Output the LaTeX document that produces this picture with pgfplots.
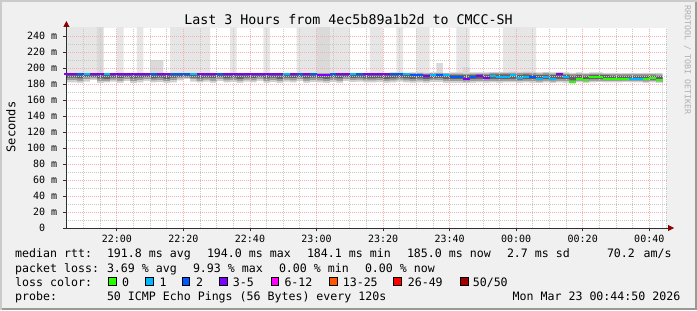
\documentclass[border=0pt]{standalone}
\usepackage{fontspec}
\setmainfont{DejaVu Sans Mono}
\usepackage{pgfplots}
\usepackage{pgfplotstable}
\pgfplotsset{compat=1.18}
\usetikzlibrary{arrows.meta}

\definecolor{bg}{HTML}{F0F0F0}
\definecolor{shadeA}{HTML}{CBCBCB}
\definecolor{shadeB}{HTML}{999999}
\definecolor{gridred}{HTML}{F4B0B0}
\definecolor{gridgray}{HTML}{C8C8C8}
\definecolor{arrowred}{HTML}{8B0000}
\definecolor{axiscol}{HTML}{303030}
\definecolor{tallA}{HTML}{E6E6E6}
\definecolor{tallB}{HTML}{DADADA}
\definecolor{smL}{HTML}{D0D0D0}
\definecolor{smM}{HTML}{9C9C9C}
\definecolor{smD}{HTML}{626262}
\definecolor{lc0}{HTML}{26FF00}
\definecolor{lc1}{HTML}{00B8FF}
\definecolor{lc2}{HTML}{0059FF}
\definecolor{lc3}{HTML}{7E00FF}
\definecolor{lc4}{HTML}{FF00FF}
\definecolor{lc5}{HTML}{FF5500}
\definecolor{lc6}{HTML}{FF0000}
\definecolor{lc7}{HTML}{A10000}
\definecolor{wm}{HTML}{B0B0B0}

% x = left edge of 2-minute interval (minutes after 21:00)
\pgfplotstableread{
x tA tB Lhi Mhi Dhi Dlo Mlo Llo med c
44 252 0 193.8 193.3 192.7 188 185 182 193 p
46 252 0 193.8 193.3 192.7 188 185 182 193 p
48 252 0 193.8 193.3 192.7 187 184 181.5 193 b
50 252 0 193.8 193.3 192.7 188.5 186 183 193 c
52 252 0 193.8 193.3 192.7 189 187 185 193 p
54 0 252 193.8 193.3 192.7 187 184 181 193 p
56 0 0 193.8 193.3 192.7 186.5 184 182 193 c
58 0 0 193.8 193.3 192.7 188 185.5 183 193 p
60 252 0 193.8 193.3 192.7 187.5 184 181.5 193 p
62 0 0 193.8 193.3 192.7 189 186 183.5 193 p
64 0 0 193.8 193.3 192.7 187 183.5 181 193 p
66 252 0 193.8 193.3 192.7 188 185 182 193 p
68 0 0 193.8 193.3 192.7 188.5 186 184 193 p
70 0 210 193.8 193.3 192.7 187 184.5 182 193 b
72 0 210 193.8 193.3 192.7 188 185 182.5 193 p
74 0 0 193.8 193.3 192.7 186.5 183.5 181.5 193 p
76 252 0 193.8 193.3 192.7 188 185 182 193 b
78 252 0 193.8 193.3 192.7 189 187 184.5 193 b
80 252 0 193.8 193.3 192.7 189.5 187.5 186 193 b
82 252 0 193.8 193.3 192.7 188 186 183 193 c
84 252 0 193.8 193.3 192.7 187 184 182 193 p
86 252 0 193.8 193.3 192.7 188 185.5 183 193 p
88 0 0 193.8 193.3 192.7 187.5 184 181.5 193 p
90 0 0 193.8 193.3 192.7 188.5 186 183.5 193 b
92 0 0 193.8 193.3 192.7 187 184.5 182 193 p
94 252 0 193.8 193.3 192.7 188 185 182.5 193 p
96 0 0 193.8 193.3 192.7 186.5 184 181.5 193 p
98 0 0 193.8 193.3 192.7 188 185.5 183 192.3 p
100 0 0 193.8 193.3 192.7 187.5 184.5 182 193 p
102 0 0 193.8 193.3 192.7 189 186.5 184 193 p
104 252 0 193.8 193.3 192.7 187 184 181.5 193 p
106 0 0 193.8 193.3 192.7 188 185 182.5 193 p
108 0 0 193.8 193.3 192.7 186.5 183.5 181 193 p
110 0 0 193.8 193.3 192.7 188 185.5 183 193 c
112 0 0 193.8 193.3 192.7 187.5 184.5 182 193 p
114 252 0 193.8 193.3 192.7 188.5 186 183.5 192 b
116 252 0 193.8 193.3 192.7 187 184 181.5 193 p
118 252 0 193.8 193.3 192.7 188 185 182.5 192.5 b
120 0 252 193.8 193.3 192.7 187.5 184.5 182 191.5 p
122 0 252 193.8 193.3 192.7 186.5 183.5 181 191.5 p
124 252 0 193.8 193.3 192.7 188 185 182.5 192.5 b
126 252 0 193.8 193.3 192.7 187 184 181.5 192.8 p
128 252 0 193.8 193.3 192.7 188.5 186 183.5 192.8 p
130 0 0 193.8 193.3 192.7 187.5 185 182.5 193 c
132 0 0 193.8 193.3 192.7 188 185.5 183 192.5 b
134 0 0 193.8 193.3 192.7 187 184.5 182 192.5 p
136 252 0 194 193.5 192.8 187 184.5 182 192.8 p
138 252 0 194 193.5 192.8 187.5 185 182.5 192.8 p
140 0 0 194 193.3 192.6 186.5 184 181.5 192.8 p
142 0 0 194.5 193.5 192.5 187 184.5 182 192 b
144 252 0 194.5 193.5 192.5 188 185.5 183 192 b
146 0 0 194 193.3 192.5 187 184.5 182 192.5 c
148 0 0 194.5 193.5 192.3 186.5 184 181.5 191.5 b
150 252 0 194.5 193.5 192.3 187 184.5 182 191.5 b
152 252 0 194 193 192 186 183.5 181.5 190 p
154 0 0 194.5 193.5 192.5 187 185 182.5 191.7 c
156 0 206 194.5 193.5 192.5 187.5 185 182.5 191.7 b
158 0 0 194 193.2 192.3 186.5 184 181.5 191.7 c
160 0 0 194.5 193 191.5 186 183.5 181.5 188.5 b
162 252 0 194.5 193 191.5 186 183.5 181.5 188.5 b
164 252 201 194 192.5 191 185.5 183 181 186.8 p
166 0 0 194.5 193 191.5 186 183.5 181.5 189.2 b
168 0 0 194.5 193 192 186.5 184 182 190 p
170 0 0 194.5 193 191.5 186 183.5 181.5 188 p
172 0 0 195 193.5 192 186.5 184 182 190 c
174 0 0 195 193.5 192 186 183.5 181.5 188.3 c
176 252 0 195 193.5 192 186 184 182 189.2 c
178 252 0 195.5 194 192.5 186.5 184 182 190.8 c
180 252 0 195 193.5 191.5 185.5 183.5 181.5 187.5 c
182 252 0 195.5 194 192 186 184 182 189.2 c
184 252 0 195 193.5 191.5 186 183.5 181.5 188.3 b
186 0 0 194.5 193 191 185 183 181 186.7 c
188 0 0 195 193.5 191.5 186 184 182 189.2 c
190 0 0 194.5 193 191 185 183 181 186.7 c
192 0 0 195 193.5 192.5 186.5 184 182 192 p
194 0 0 194.5 193 191.5 186 183.5 181.5 189.2 c
196 0 0 194 192.5 190.5 184.5 182.5 180.5 183 g
198 0 0 194.5 193 191 185.5 183.5 182 186.7 g
200 0 0 194 192.5 190.5 185 183 181.5 185.4 g
202 0 0 194.5 193 191.5 186 184 182 188.3 g
204 0 0 194.5 193 191.5 186 184 182.5 189.2 g
206 0 0 194 192.5 191 185.5 183.5 182 186.7 g
208 0 0 194 192.5 190.5 185.5 183.5 182 186.7 g
210 0 0 193.5 192.5 190.5 185 183.5 182 186.7 g
212 0 0 193.5 192.5 190.5 185.5 184 182.5 186.7 g
214 0 0 194 192.5 190.5 185 183.5 182 186.7 c
216 0 0 193.5 192.5 190.5 185 183.5 182 186.7 c
218 0 0 194 192.5 190.5 185 183 181.5 186 g
220 0 0 193.5 192.5 190.5 185.5 183.5 182 187 g
222 0 0 193.5 192 190 184.5 183 181.5 184.8 g
224 0 0 193.5 192 190 184.5 183 181.5 nan g
}\data

\newcommand\lf{\fontsize{11.6bp}{14bp}\selectfont}

\begin{document}
\begin{tikzpicture}[x=1bp,y=1bp]
\useasboundingbox (0,0) rectangle (697,310);
\fill[bg] (0,0) rectangle (697,310);
\fill[shadeA] (0,0) rectangle (2,310);
\fill[shadeA] (0,308) rectangle (697,310);
\fill[shadeB] (695,0) rectangle (697,308);
\fill[shadeB] (2,0) rectangle (697,2);

\begin{axis}[
  at={(66.4bp,82bp)}, anchor=south west,
  scale only axis, width=600.6bp, height=200bp,
  xmin=44.8333, xmax=225.33, ymin=0, ymax=250,
  axis lines=left,
  axis line style={draw=axiscol, line width=0.9bp, shorten >=-7bp,
    -{Triangle[length=6bp,width=6bp,color=arrowred]}},
  axis background/.style={fill=white},
  axis on top,
  xtick={60,80,...,220},
  xticklabels={22:00,22:20,22:40,23:00,23:20,23:40,00:00,00:20,00:40},
  minor xtick={50,55,65,70,75,85,90,95,105,110,115,125,130,135,145,150,155,165,170,175,185,190,195,205,210,215,225},
  ytick={0,20,...,240},
  yticklabels={0\phantom{ m},20 m,40 m,60 m,80 m,100 m,120 m,140 m,160 m,180 m,200 m,220 m,240 m},
  minor ytick={10,30,...,230},
  grid=both,
  major grid style={draw=gridred, line width=0.8bp, dash pattern=on 1bp off 1bp},
  minor grid style={draw=gridgray, line width=0.8bp, dash pattern=on 1bp off 1bp},
  tick align=outside, major tick length=3bp, minor tick length=0bp,
  tick style={draw=axiscol, line width=0.8bp},
  xticklabel style={font=\fontsize{10bp}{12bp}\selectfont, anchor=base, inner sep=0pt, yshift=-11.5bp},
  yticklabel style={font=\fontsize{10bp}{12bp}\selectfont, anchor=east, inner sep=0pt, xshift=-6bp},
]
\addplot[const plot, fill=tallA, draw=none] table[x=x,y=tA] {\data} \closedcycle;
\addplot[const plot, fill=tallB, draw=none] table[x=x,y=tB] {\data} \closedcycle;
\addplot[const plot, fill=smL, draw=none] table[x=x,y=Lhi] {\data} \closedcycle;
\addplot[const plot, fill=smM, draw=none] table[x=x,y=Mhi] {\data} \closedcycle;
\addplot[const plot, fill=smD, draw=none] table[x=x,y=Dhi] {\data} \closedcycle;
\addplot[const plot, fill=smM, draw=none] table[x=x,y=Dlo] {\data} \closedcycle;
\addplot[const plot, fill=smL, draw=none] table[x=x,y=Mlo] {\data} \closedcycle;
\addplot[const plot, fill=white, draw=none] table[x=x,y=Llo] {\data} \closedcycle;
\addplot[scatter, only marks, mark=-, mark size=3.34bp,
  point meta=explicit symbolic,
  scatter/classes={
    g={mark=-,draw=lc0,line width=2bp},
    c={mark=-,draw=lc1,line width=2bp},
    b={mark=-,draw=lc2,line width=2bp},
    p={mark=-,draw=lc3,line width=2bp},
    m={mark=-,draw=lc4,line width=2bp}},
  mark options={line width=2bp}]
  table[x expr=\thisrow{x}+1, y=med, meta=c] {\data};
\end{axis}

% title, axis label, watermark
\node[anchor=base, inner sep=0pt, font=\fontsize{13.3bp}{15bp}\selectfont] at (348.5,286) {Last 3 Hours from 4ec5b89a1b2d to CMCC-SH};
\node[rotate=90, inner sep=0pt, font=\fontsize{12bp}{14bp}\selectfont] at (10.8,183) {Seconds};
\node[rotate=-90, inner sep=0pt, text=wm, font=\fontsize{8.3bp}{10bp}\selectfont] at (687.5,250) {RRDTOOL / TOBI OETIKER};

% legend row 1
\begin{scope}[every node/.style={anchor=base west, inner sep=0pt, font=\lf}]
\node at (15,52.2) {median rtt:};
\node at (106.8,52.2) {191.8 ms avg};
\node at (206.8,52.2) {194.0 ms max};
\node at (306.8,52.2) {184.1 ms min};
\node at (406.8,52.2) {185.0 ms now};
\node at (506.8,52.2) {2.7 ms sd};
\node at (606.8,52.2) {70.2};
\node at (643.5,52.2) {am/s};
% row 2
\node at (15,37.8) {packet loss:};
\node at (106.8,37.8) {3.69 \% avg};
\node at (192.8,37.8) {9.93 \% max};
\node at (278.8,37.8) {0.00 \% min};
\node at (364.8,37.8) {0.00 \% now};
% row 3
\node at (15,23.5) {loss color:};
\node at (122,23.5) {0};
\node at (159.3,23.5) {1};
\node at (196,23.5) {2};
\node at (232.6,23.5) {3-5};
\node at (284.3,23.5) {6-12};
\node at (342.6,23.5) {13-25};
\node at (407.6,23.5) {26-49};
\node at (472.6,23.5) {50/50};
% row 4
\node at (15,9.7) {probe:};
\node at (106.8,9.7) {50 ICMP Echo Pings (56 Bytes) every 120s};
\node[anchor=base east] at (680.5,9.7) {Mon Mar 23 00:44:50 2026};
\end{scope}
\begin{scope}[line width=0.8bp, draw=black]
\filldraw[fill=lc0] (108.7,24.7) rectangle ++(7.6,7.6);
\filldraw[fill=lc1] (145.4,24.7) rectangle ++(7.6,7.6);
\filldraw[fill=lc2] (182.1,24.7) rectangle ++(7.6,7.6);
\filldraw[fill=lc3] (219.4,24.7) rectangle ++(7.6,7.6);
\filldraw[fill=lc4] (271.1,24.7) rectangle ++(7.6,7.6);
\filldraw[fill=lc5] (329.7,24.7) rectangle ++(7.6,7.6);
\filldraw[fill=lc6] (393.7,24.7) rectangle ++(7.6,7.6);
\filldraw[fill=lc7] (460.4,24.7) rectangle ++(7.6,7.6);
\end{scope}
\end{tikzpicture}
\end{document}
